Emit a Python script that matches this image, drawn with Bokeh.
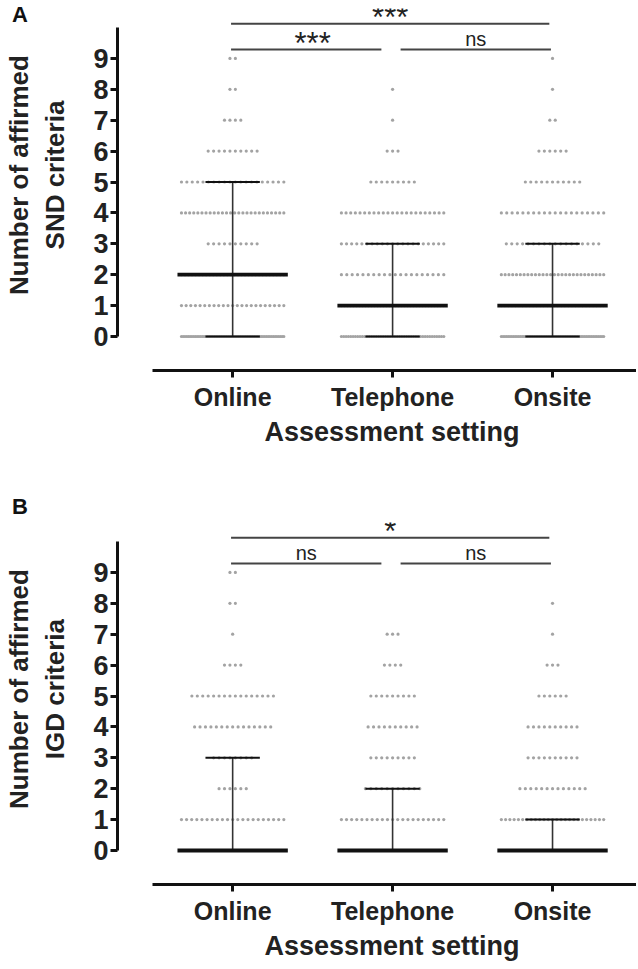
import numpy as np
from bokeh.plotting import figure
from bokeh.models import Range1d, FixedTicker, Label, Div
from bokeh.layouts import column
from bokeh.embed import file_html
from bokeh.resources import INLINE

# ---------------- data ----------------
groups = ["Online", "Telephone", "Onsite"]
levels = [0, 1, 2, 3, 4, 5, 6, 7, 8, 9]

# number of participants at each criterion count (0..9), panel A (SND)
snd_online = [60, 23, 30, 10, 26, 20, 10, 4, 2, 2]
snd_telephone = [45, 35, 20, 21, 23, 9, 3, 1, 1, 0]
snd_onsite = [60, 30, 28, 18, 20, 11, 6, 2, 1, 1]
snd_median = [2, 1, 1]
snd_q1 = [0, 0, 0]
snd_q3 = [5, 3, 3]
snd_pairs = [(1, 2), (2, 3), (1, 3)]
snd_sig = ["***", "ns", "***"]

# panel B (IGD)
igd_online = [80, 21, 6, 8, 15, 16, 4, 1, 2, 2]
igd_telephone = [80, 21, 11, 9, 10, 9, 4, 3, 0, 0]
igd_onsite = [80, 25, 13, 10, 10, 6, 3, 1, 1, 0]
igd_median = [0, 0, 0]
igd_q1 = [0, 0, 0]
igd_q3 = [3, 2, 1]
igd_pairs = [(1, 2), (2, 3), (1, 3)]
igd_sig = ["ns", "ns", "*"]

x_title = "Assessment setting"
y_title_a = ["Number of affirmed", "SND criteria"]
y_title_b = ["Number of affirmed", "IGD criteria"]

# ---------------- style ----------------
FONT = "Liberation Sans"
DOT_STEP = 0.034
ROW_MAX = 0.64
MED_HW = 0.345
CAP_HW = 0.17
DOT_COLOR = "#a3a3a3"
W = 636
HA = 492
HB = 475
NB = "\u00a0"


def make_panel(counts, med, q1, q3, pairs, sig, ylines,
               height, border_top, border_bottom):
    p = figure(width=W, height=height,
               x_range=Range1d(0.28, 3.525), y_range=Range1d(-1.10, 10.615),
               output_backend="svg", toolbar_location=None,
               min_border_left=117, min_border_right=0,
               min_border_top=border_top, min_border_bottom=border_bottom)
    p.outline_line_color = None
    p.xgrid.visible = False
    p.ygrid.visible = False
    p.background_fill_color = "white"

    # dots
    xs, ys = [], []
    for gi, cnt in enumerate(counts):
        cx = gi + 1
        for lev, n in zip(levels, cnt):
            if n == 0:
                continue
            step = DOT_STEP if n == 1 else min(DOT_STEP, ROW_MAX / (n - 1))
            offs = (np.arange(n) - (n - 1) / 2.0) * step
            xs.extend(cx + offs)
            ys.extend([lev] * n)
    p.scatter(xs, ys, size=3.2, fill_color=DOT_COLOR, line_color=None)

    gx = np.array([1, 2, 3], dtype=float)
    p.segment(x0=gx, x1=gx, y0=q1, y1=q3, line_color="#333333", line_width=1.6)
    p.segment(x0=gx - CAP_HW, x1=gx + CAP_HW, y0=q1, y1=q1, line_color="#111111", line_width=2)
    p.segment(x0=gx - CAP_HW, x1=gx + CAP_HW, y0=q3, y1=q3, line_color="#111111", line_width=2)
    p.segment(x0=gx - MED_HW, x1=gx + MED_HW, y0=med, y1=med, line_color="#111111", line_width=3.8)

    # significance brackets
    for (a, b), s in zip(pairs, sig):
        is_star = "*" in s
        if b - a == 2:
            y_bar, y_txt = 10.12, 10.32
            x0, x1 = a - 0.01, b - 0.02
        else:
            y_bar, y_txt = 9.29, (9.48 if is_star else 9.64)
            x0 = a - 0.01 if a == 1 else a + 0.05
            x1 = b - 0.07 if a == 1 else b - 0.01
        p.segment(x0=[x0], x1=[x1], y0=[y_bar], y1=[y_bar], line_color="#444444", line_width=2)
        xc = (x0 + x1) / 2 + (0.04 if (is_star and b - a == 1) else 0.0)
        p.add_layout(Label(x=xc, y=y_txt, text=s, text_align="center",
                           text_baseline="alphabetic", text_font=FONT,
                           text_font_size="31px" if is_star else "20px",
                           text_color="#222222"))

    # y axis
    ya = p.yaxis[0]
    ya.bounds = (0, 10)
    ya.ticker = FixedTicker(ticks=levels)
    ya.axis_line_width = 3
    ya.axis_line_color = "#111111"
    ya.major_tick_line_width = 3
    ya.major_tick_line_color = "#111111"
    ya.major_tick_out = 7
    ya.major_tick_in = 0
    ya.minor_tick_line_color = None
    ya.major_label_text_font = FONT
    ya.major_label_text_font_style = "bold"
    ya.major_label_text_font_size = "27px"
    ya.major_label_text_color = "#222222"
    ya.major_label_standoff = 2
    ya.axis_label = "\n".join(NB * 4 + line for line in ylines)
    ya.axis_label_text_font = FONT
    ya.axis_label_text_font_style = "bold"
    ya.axis_label_text_font_size = "26px"
    ya.axis_label_text_color = "#222222"
    ya.axis_label_standoff = 20

    # x axis
    xa = p.xaxis[0]
    xa.bounds = (0.5, 3.525)
    xa.ticker = FixedTicker(ticks=[1, 2, 3])
    xa.major_label_overrides = {i + 1: g for i, g in enumerate(groups)}
    xa.axis_line_width = 3
    xa.axis_line_color = "#111111"
    xa.major_tick_line_width = 3
    xa.major_tick_line_color = "#111111"
    xa.major_tick_out = 7
    xa.major_tick_in = 0
    xa.minor_tick_line_color = None
    xa.major_label_text_font = FONT
    xa.major_label_text_font_style = "bold"
    xa.major_label_text_font_size = "25px"
    xa.major_label_text_color = "#222222"
    xa.major_label_standoff = 5
    xa.axis_label = NB * 4 + x_title
    xa.axis_label_text_font = FONT
    xa.axis_label_text_font_style = "bold"
    xa.axis_label_text_font_size = "27px"
    xa.axis_label_text_color = "#222222"
    xa.axis_label_standoff = 3
    return p


def letter_div(text, top, fig_bottom):
    h = 26
    return Div(text=text, width=30, height=h,
               margin=(top - fig_bottom, 0, fig_bottom - top - h, 12),
               styles={"font-family": "'Liberation Sans', Arial, sans-serif",
                       "font-weight": "bold", "font-size": "22px",
                       "line-height": "26px", "color": "#111111"})


pA = make_panel([snd_online, snd_telephone, snd_onsite], snd_median, snd_q1, snd_q3,
                snd_pairs, snd_sig, y_title_a,
                height=HA, border_top=8, border_bottom=HA - 8 - 362)
pB = make_panel([igd_online, igd_telephone, igd_onsite], igd_median, igd_q1, igd_q3,
                igd_pairs, igd_sig, y_title_b,
                height=HB, border_top=30, border_bottom=HB - 30 - 362)

divA = letter_div("A", 2, HA)
divB = letter_div("B", 494, HA + HB)

layout = column(pA, divA, pB, divB, spacing=0)
open("out.html", "w").write(file_html(layout, INLINE))
